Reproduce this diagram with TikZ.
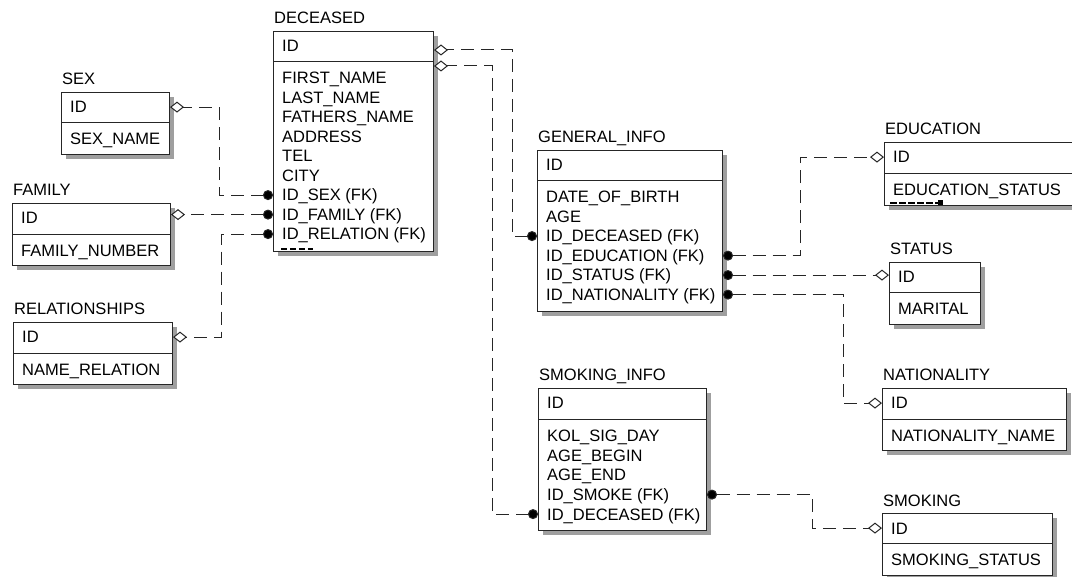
\documentclass[tikz,border=0pt]{standalone}
\usepackage{fontspec}
\setmainfont{Liberation Sans}
\usetikzlibrary{arrows.meta,calc}
\tikzset{
  tbl/.style={draw=black!85, fill=white, line width=1pt, inner sep=0pt, anchor=north west},
  shd/.style={fill=gray!75},
  txt/.style={anchor=base west, inner sep=0pt, text height=11.8pt, text depth=0pt,
    font=\fontsize{16.5}{19.5}\selectfont, text=black},
  conn/.style={line width=1pt, draw=black!85, dash pattern=on 13pt off 7pt,
    {Circle[length=10pt,fill=black]}-{Diamond[open,length=14pt,width=11pt,fill=white]}},
  marks/.style={line width=2.5pt, dash pattern=on 6pt off 3pt},
}
% #1 name, #2 x1, #3 y1, #4 x2, #5 ydiv, #6 y2, #7 label, #8 rows
\newcommand{\ertable}[8]{%
  \fill[shd] (#2+5,#3+5) rectangle (#4+5,#6+5);
  \node[tbl, minimum width={#4-#2}, minimum height={#6-#3}] (#1) at (#2,#3) {};
  \draw[line width=1pt, black!85] (#2,#5) -- (#4,#5);
  \node[txt] (#1-lbl) at (#2+1,#3-7) {#7};
  \node[txt] (#1-id) at (#2+9,#3+21) {ID};
  \foreach \t [count=\i] in {#8}
    \node[txt] (#1-\i) at (#2+9,#5+22+19.5*\i-19.5) {\t};
}
\begin{document}
\begin{tikzpicture}[x=1pt,y=-1pt]
\useasboundingbox (0,0) rectangle (1072,577);
\clip (0,0) rectangle (1072,577);
\fill[white] (0,0) rectangle (1072,577);

\ertable{sex}{61}{92}{169}{123}{154}{SEX}{SEX\_NAME}
\ertable{fam}{12}{203}{170}{235}{265}{FAMILY}{FAMILY\_NUMBER}
\ertable{rel}{13}{322}{172}{354}{384}{RELATIONSHIPS}{NAME\_RELATION}
\ertable{dec}{273}{31}{433}{62}{251}{DECEASED}{FIRST\_NAME,LAST\_NAME,FATHERS\_NAME,ADDRESS,TEL,CITY,ID\_SEX (FK),ID\_FAMILY (FK),ID\_RELATION (FK)}
\ertable{gen}{537}{150}{722}{181}{311}{GENERAL\_INFO}{DATE\_OF\_BIRTH,AGE,ID\_DECEASED (FK),ID\_EDUCATION (FK),ID\_STATUS (FK),ID\_NATIONALITY (FK)}
\ertable{smi}{538}{388}{706}{420}{530}{SMOKING\_INFO}{KOL\_SIG\_DAY,AGE\_BEGIN,AGE\_END,ID\_SMOKE (FK),ID\_DECEASED (FK)}
\ertable{edu}{884}{142}{1090}{174}{205}{EDUCATION}{EDUCATION\_STATUS}
\ertable{sta}{889}{262}{980}{293}{324}{STATUS}{MARITAL}
\ertable{nat}{882}{388}{1066}{420}{450}{NATIONALITY}{NATIONALITY\_NAME}
\ertable{smk}{882}{513}{1052}{543}{575}{SMOKING}{SMOKING\_STATUS}

% small marks under shadows
\draw[marks] (dec.south west) ++(8,-3) -- ++(32,0);
\draw[line width=1.5pt, dash pattern=on 7pt off 2pt] (edu.south west) ++(6,-3) -- ++(48,0);
\fill (edu.south west) ++(54,-1) rectangle ++(5,-5);

% connection points
\coordinate (p-sex) at (sex.east |- sex-id);
\coordinate (p-rel) at (rel.east |- rel-id);
\coordinate (p-d1) at ([yshift=-19pt]dec.north east);
\coordinate (p-d2) at ([yshift=-35pt]dec.north east);
\coordinate (p-edu) at (edu.west |- edu-id);
\coordinate (p-nat) at (nat.west |- nat-id);
\coordinate (p-smk) at (smk.west |- smk-id);

\draw[conn] (dec.west |- dec-7) -| ([xshift=49pt]p-sex) -- (p-sex);
\draw[conn] (dec.west |- dec-8) -- (fam.east |- dec-8);
\draw[conn] (dec.west |- dec-9) -| ([xshift=48pt]p-rel) -- (p-rel);
\draw[conn] (gen.west |- gen-3) -| ([xshift=78pt]p-d1) -- (p-d1);
\draw[conn] (smi.west |- smi-5) -| ([xshift=58pt]p-d2) -- (p-d2);
\draw[conn] (gen.east |- gen-4) -| ([xshift=-84pt]p-edu) -- (p-edu);
\draw[conn] (gen.east |- gen-5) -- (sta.west |- gen-5);
\draw[conn] (gen.east |- gen-6) -| ([xshift=-39pt]p-nat) -- (p-nat);
\draw[conn] (smi.east |- smi-4) -| ([xshift=-70pt]p-smk) -- (p-smk);
\end{tikzpicture}
\end{document}
